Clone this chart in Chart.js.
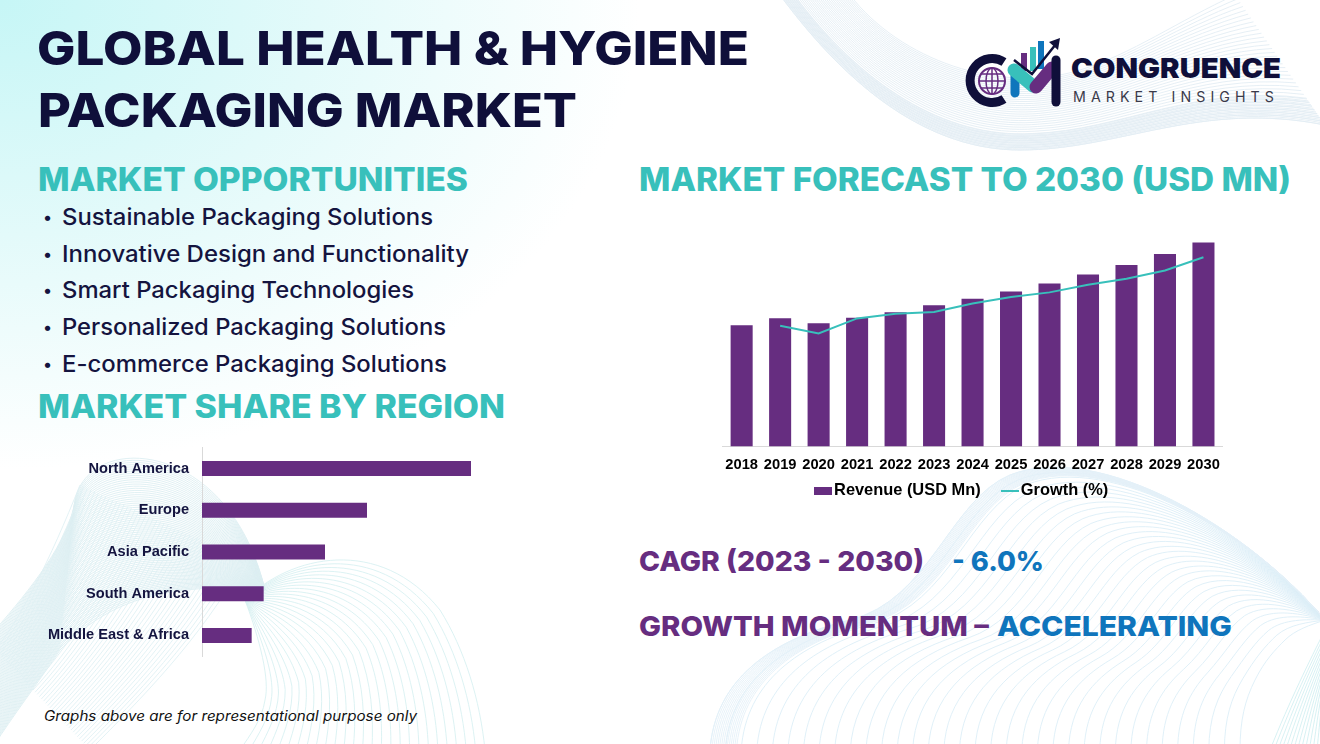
<!DOCTYPE html>
<html>
<head>
<meta charset="utf-8">
<title>Global Health & Hygiene Packaging Market</title>
<script src="https://cdn.jsdelivr.net/npm/chart.js@4/dist/chart.umd.min.js"></script>
<style>
    html, body { margin: 0; padding: 0; background: #fff; }
    #page { position: relative; width: 1320px; height: 744px; overflow: hidden; background: #fff; font-family: Inter, sans-serif; }
    #wash { position: absolute; left: 0; top: 0; width: 660px; height: 480px; background: radial-gradient(ellipse 640px 470px at 0 0, #c6f6f6 0%, #e3fafa 50%, #ffffff 100%); }
    #waves, #logo { position: absolute; left: 0; top: 0; }
    canvas { position: absolute; }
    .txt { position: absolute; white-space: nowrap; line-height: 1; transform-origin: left top; }
    .title { font-size: 47px; font-weight: 800; color: #0f0f3a; }
    .head { font-size: 32px; font-weight: 800; color: #38c0bb; }
    .item { font-size: 22.5px; font-weight: 500; color: #14143f; }
    .dot { font-size: 17px; font-weight: 500; color: #14143f; }
    .stat { font-size: 27.5px; font-weight: 800; }
    .purple { color: #662d80; }
    .blue { color: #0f75bc; }
    .note { font-size: 14px; font-style: italic; color: #111; }
</style>
</head>
<body>
<div id="page">
    <div id="wash"></div>
    <svg id="waves" width="1320" height="744"></svg>

    <div class="txt title" style="left:37px;top:24px" data-w="712">GLOBAL HEALTH &amp; HYGIENE</div>
    <div class="txt title" style="left:38px;top:86px" data-w="539">PACKAGING MARKET</div>

    <div class="txt head" style="left:38px;top:164px" data-w="430">MARKET OPPORTUNITIES</div>
    <div class="txt dot" style="left:43px;top:209px">•</div>
    <div class="txt item" style="left:62px;top:206px" data-w="371">Sustainable Packaging Solutions</div>
    <div class="txt dot" style="left:43px;top:246px">•</div>
    <div class="txt item" style="left:62px;top:243px" data-w="407">Innovative Design and Functionality</div>
    <div class="txt dot" style="left:43px;top:282px">•</div>
    <div class="txt item" style="left:62px;top:279px" data-w="352">Smart Packaging Technologies</div>
    <div class="txt dot" style="left:43px;top:319px">•</div>
    <div class="txt item" style="left:62px;top:316px" data-w="384">Personalized Packaging Solutions</div>
    <div class="txt dot" style="left:43px;top:356px">•</div>
    <div class="txt item" style="left:62px;top:353px" data-w="385">E-commerce Packaging Solutions</div>
    <div class="txt head" style="left:38px;top:391px" data-w="467">MARKET SHARE BY REGION</div>

    <div class="txt head" style="left:639px;top:164px" data-w="652">MARKET FORECAST TO 2030 (USD MN)</div>

    <div class="txt stat purple" style="left:639px;top:548px" data-w="285">CAGR (2023 - 2030)</div>
    <div class="txt stat blue" style="left:952px;top:548px" data-w="92">- 6.0%</div>
    <div class="txt stat purple" style="left:639px;top:613px" data-w="350">GROWTH MOMENTUM –</div>
    <div class="txt stat blue" style="left:997px;top:613px" data-w="235">ACCELERATING</div>

    <div class="txt note" style="left:44px;top:709px" data-w="373">Graphs above are for representational purpose only</div>

    <!-- Logo mark -->
    <svg id="logo" width="1320" height="744">
        <path d="M1004 62 A22 22 0 1 0 1004 99" fill="none" stroke="#0f0f3a" stroke-width="9"/>
        <circle cx="992" cy="81" r="13" fill="none" stroke="#662d80" stroke-width="2"/>
        <ellipse cx="992" cy="81" rx="6" ry="13" fill="none" stroke="#662d80" stroke-width="1.5"/>
        <path d="M979 81 H1005 M981 74 H1003 M981 88 H1003 M992 68 V94" stroke="#662d80" stroke-width="1.5"/>
        <rect x="1021" y="53" width="6" height="18" fill="#662d80"/>
        <rect x="1030" y="47" width="6" height="24" fill="#38c0bb"/>
        <rect x="1038" y="41" width="6" height="28" fill="#0f75bc"/>
        <path d="M1015 76 V93" stroke="#0f75bc" stroke-width="9" stroke-linecap="round"/>
        <path d="M1014 70 L1033 86" stroke="#38c0bb" stroke-width="13" stroke-linecap="round"/>
        <path d="M1036 87 L1052 68" stroke="#662d80" stroke-width="13" stroke-linecap="round"/>
        <path d="M1014 60 L1032 74 L1056 44" fill="none" stroke="#0f0f3a" stroke-width="2.5"/>
        <path d="M1060 38 L1049 42 L1058 50 Z" fill="#0f0f3a"/>
        <path d="M1056 60 V102" stroke="#0f0f3a" stroke-width="9" stroke-linecap="round"/>
    </svg>
    <div class="txt" style="left:1071px;top:55px;font-size:27.5px;font-weight:900;color:#0f0f3a" data-w="210">CONGRUENCE</div>
    <div class="txt" style="left:1073px;top:90px;font-size:14px;font-weight:400;letter-spacing:5px;color:#3a3a4a" data-w="206">MARKET INSIGHTS</div>

    <canvas id="forecast-chart" style="left:700px;top:222px" width="540" height="320"></canvas>
    <canvas id="region-chart" style="left:30px;top:426px" width="480" height="252"></canvas>
</div>

<script>
// Chart data
const years = ['2018', '2019', '2020', '2021', '2022', '2023', '2024', '2025', '2026', '2027', '2028', '2029', '2030'];
const revenue = [1215, 1285, 1235, 1290, 1345, 1415, 1480, 1555, 1635, 1725, 1820, 1930, 2045];
const growth = [null, 6.46, 6.04, 6.85, 7.10, 7.19, 7.64, 7.99, 8.24, 8.65, 8.97, 9.41, 10.12];

const regions = ['North America', 'Europe', 'Asia Pacific', 'South America', 'Middle East & Africa'];
const regionShare = [40.35, 24.75, 18.45, 9.25, 7.45];

const PURPLE = '#662d80';
const TEAL = '#38c0bb';
const AXIS_GREY = '#d9d9d9';

// Background line art, purely decorative
function drawWaves(from, to, count, color, tEnd) {
    const svg = document.getElementById('waves');
    for (let i = 0; i <= count; i++) {
        const t = (i / count) * (tEnd || 1);
        const pts = from.map((v, k) => (v + (to[k] - v) * t).toFixed(1));
        const path = document.createElementNS('http://www.w3.org/2000/svg', 'path');
        path.setAttribute('d', 'M' + pts[0] + ' ' + pts[1] + ' C' + pts.slice(2).join(' '));
        path.setAttribute('fill', 'none');
        path.setAttribute('stroke', color);
        path.setAttribute('stroke-width', '0.9');
        svg.appendChild(path);
    }
}

const topEdge = [780, -5, 850, 90, 930, 150, 1020, 150, 1120, 150, 1200, 100, 1325, 125];
const topInner = [850, -5, 900, 60, 1000, 95, 1080, 70, 1130, 55, 1180, 20, 1235, -5];
drawWaves(topEdge, topInner, 34, '#e3edf4');
drawWaves(topEdge, topInner, 14, '#e3edf4', 0.2);

const lowEdge = [710, 750, 715, 680, 770, 640, 850, 620, 930, 600, 950, 500, 1010, 475, 1100, 440, 1250, 530, 1325, 620];
const lowInner = [1240, 750, 1240, 720, 1245, 700, 1255, 680, 1265, 660, 1275, 650, 1285, 640, 1295, 630, 1310, 625, 1325, 620];
drawWaves(lowEdge, lowInner, 34, '#dceef7');
drawWaves(lowEdge, lowInner, 14, '#e4f1f8', 0.05);
drawWaves([1270, 750, 1290, 700, 1310, 660, 1325, 630], [1325, 750, 1325, 720, 1325, 700, 1325, 690], 14, '#d2eff2');

drawWaves([265, 590, 230, 440, 90, 430, 75, 500, 70, 540, 30, 590, -5, 630],
          [265, 590, 150, 580, 100, 610, 60, 650, 40, 680, 10, 720, -5, 744], 70, '#dceef2');
drawWaves([80, 485, 50, 560, 20, 620, -5, 650], [245, 560, 200, 640, 140, 700, 90, 750], 45, '#e0f0f4');
drawWaves([245, 600, 290, 555, 380, 535, 440, 610, 465, 650, 480, 700, 485, 750],
          [245, 600, 260, 640, 270, 680, 265, 700, 262, 720, 250, 735, 240, 750], 26, '#d8f0f2');

// Squeeze or stretch headings to the width they have in the picture
document.querySelectorAll('[data-w]').forEach(el => {
    const measured = el.getBoundingClientRect().width;
    el.style.transform = 'scaleX(' + (Number(el.dataset.w) / measured).toFixed(4) + ')';
});

// Legend swatches sit almost against their text, which the stock rect/line styles can't do
function makeSwatch(height, color) {
    const swatch = document.createElement('canvas');
    swatch.width = 18;
    swatch.height = height;
    const ctx = swatch.getContext('2d');
    ctx.fillStyle = color;
    ctx.fillRect(0, 0, 18, height);
    return swatch;
}
const legendSwatches = [makeSwatch(8, PURPLE), makeSwatch(2, TEAL)];

// The wide label padding also pushes the legend down, so pull it back up under the ticks
const legendShift = {
    id: 'legendShift',
    afterLayout(chart) {
        chart.legend.left -= 8;
        chart.legend.right -= 8;
        chart.legend.top -= 25;
        chart.legend.bottom -= 25;
    }
};

// Forecast chart: revenue bars with the growth line on a hidden second axis
new Chart(document.getElementById('forecast-chart').getContext('2d'), {
    plugins: [legendShift],
    data: {
        labels: years,
        datasets: [{
            type: 'bar',
            label: 'Revenue (USD Mn)',
            data: revenue,
            backgroundColor: PURPLE,
            barPercentage: 0.573,
            categoryPercentage: 1,
            yAxisID: 'y',
            order: 2
        }, {
            type: 'line',
            label: 'Growth (%)',
            data: growth,
            borderColor: TEAL,
            backgroundColor: TEAL,
            borderWidth: 2,
            pointRadius: 0,
            tension: 0,
            yAxisID: 'y1',
            order: 1
        }]
    },
    options: {
        responsive: false,
        animation: false,
        layout: { padding: { left: 22.4, right: 17.3, top: 0, bottom: 8 } },
        plugins: {
            legend: {
                position: 'bottom',
                labels: {
                    usePointStyle: true,
                    pointStyleWidth: 5,
                    boxHeight: 8,
                    padding: 27,
                    color: '#000',
                    font: { family: 'Liberation Sans', size: 16.4, weight: 'bold' },
                    generateLabels: chart => Chart.defaults.plugins.legend.labels.generateLabels(chart)
                        .map(item => ({ ...item, pointStyle: legendSwatches[item.datasetIndex] })),
                    sort: (a, b) => a.datasetIndex - b.datasetIndex
                }
            },
            tooltip: { enabled: false }
        },
        scales: {
            x: {
                grid: { display: false, drawTicks: false },
                border: { color: AXIS_GREY },
                afterFit: scale => { scale.height = 34; },
                ticks: {
                    color: '#000',
                    padding: 10,
                    maxRotation: 0,
                    autoSkip: false,
                    font: { family: 'Liberation Sans', size: 14.7, weight: 'bold' }
                }
            },
            y: { display: false, min: 0, max: 2250 },
            y1: { display: false, min: 0, max: 12 }
        }
    }
});

// Region share chart
new Chart(document.getElementById('region-chart').getContext('2d'), {
    type: 'bar',
    data: {
        labels: regions,
        datasets: [{
            label: 'Market share',
            data: regionShare,
            backgroundColor: PURPLE,
            barPercentage: 0.36,
            categoryPercentage: 1
        }]
    },
    options: {
        indexAxis: 'y',
        responsive: false,
        animation: false,
        layout: { padding: { left: 0, right: 8, top: 7, bottom: 8 } },
        plugins: {
            legend: { display: false },
            tooltip: { enabled: false }
        },
        scales: {
            x: { display: false, min: 0, max: 45 },
            y: {
                grid: { display: false, drawTicks: false },
                border: { color: AXIS_GREY },
                afterFit: scale => { scale.width = 172; },
                ticks: {
                    color: '#14143f',
                    padding: 13,
                    autoSkip: false,
                    font: { family: 'Liberation Sans', size: 14.6, weight: 'bold' }
                }
            }
        }
    }
});
</script>
</body>
</html>
